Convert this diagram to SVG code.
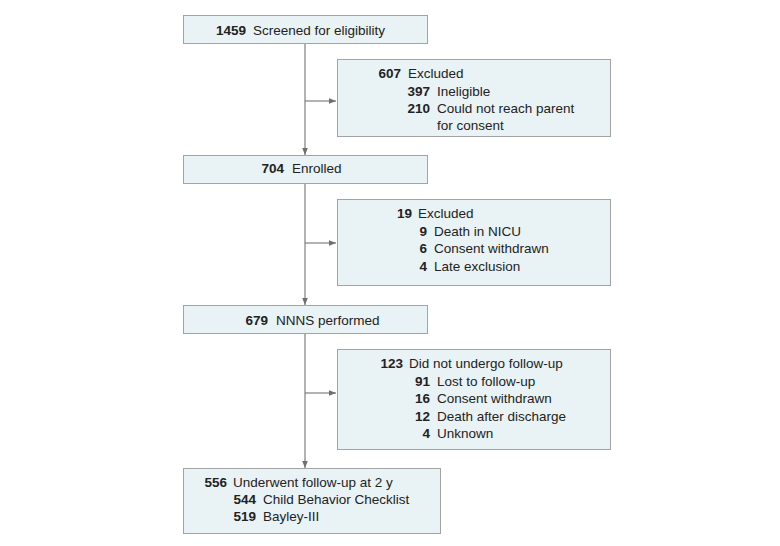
<svg xmlns="http://www.w3.org/2000/svg" width="780" height="546" viewBox="0 0 780 546">
<defs>
<style>
.box{fill:#e9f3f5;stroke:#a3a3a3;stroke-width:1}
.t{font-family:"Liberation Sans",Arial,sans-serif;font-size:13.5px;fill:#222}
.n{font-weight:bold;text-anchor:end}
.ln{stroke:#7f7f7f;stroke-width:1.2;fill:none}
</style>
<marker id="ah" viewBox="0 0 10 10" refX="10" refY="5" markerWidth="7" markerHeight="7" markerUnits="userSpaceOnUse" orient="auto">
<path d="M0,1 L10,5 L0,9 Z" fill="#6f6f6f"/>
</marker>
</defs>
<rect width="780" height="546" fill="#ffffff"/>
<g id="connectors">
<line class="ln" x1="305" y1="43" x2="305" y2="155" marker-end="url(#ah)"/>
<line class="ln" x1="305" y1="101" x2="336" y2="101" marker-end="url(#ah)"/>
<line class="ln" x1="305" y1="183" x2="305" y2="305" marker-end="url(#ah)"/>
<line class="ln" x1="305" y1="243" x2="336" y2="243" marker-end="url(#ah)"/>
<line class="ln" x1="305" y1="333" x2="305" y2="468" marker-end="url(#ah)"/>
<line class="ln" x1="305" y1="393" x2="336" y2="393" marker-end="url(#ah)"/>
</g>
<g id="screened">
<rect class="box" x="183.5" y="15.5" width="244" height="28"/>
<text class="t" x="246" y="35"><tspan class="n">1459</tspan><tspan x="253">Screened for eligibility</tspan></text>
</g>
<g id="excluded1">
<rect class="box" x="337.5" y="59.5" width="273" height="77"/>
<text class="t" x="401" y="78"><tspan class="n">607</tspan><tspan x="408">Excluded</tspan></text>
<text class="t" x="430" y="96"><tspan class="n">397</tspan><tspan x="437">Ineligible</tspan></text>
<text class="t" x="430" y="113"><tspan class="n">210</tspan><tspan x="437">Could not reach parent</tspan></text>
<text class="t" x="437" y="130">for consent</text>
</g>
<g id="enrolled">
<rect class="box" x="183.5" y="155.5" width="244" height="28"/>
<text class="t" x="284" y="173"><tspan class="n">704</tspan><tspan x="292">Enrolled</tspan></text>
</g>
<g id="excluded2">
<rect class="box" x="337.5" y="199.5" width="273" height="86"/>
<text class="t" x="412" y="218"><tspan class="n">19</tspan><tspan x="418">Excluded</tspan></text>
<text class="t" x="427" y="236"><tspan class="n">9</tspan><tspan x="434">Death in NICU</tspan></text>
<text class="t" x="427" y="253"><tspan class="n">6</tspan><tspan x="434">Consent withdrawn</tspan></text>
<text class="t" x="427" y="271"><tspan class="n">4</tspan><tspan x="434">Late exclusion</tspan></text>
</g>
<g id="nnns">
<rect class="box" x="183.5" y="305.5" width="244" height="28"/>
<text class="t" x="268" y="325"><tspan class="n">679</tspan><tspan x="276">NNNS performed</tspan></text>
</g>
<g id="nofollowup">
<rect class="box" x="337.5" y="349.5" width="273" height="100"/>
<text class="t" x="403" y="368"><tspan class="n">123</tspan><tspan x="409">Did not undergo follow-up</tspan></text>
<text class="t" x="430" y="386"><tspan class="n">91</tspan><tspan x="437">Lost to follow-up</tspan></text>
<text class="t" x="430" y="403"><tspan class="n">16</tspan><tspan x="437">Consent withdrawn</tspan></text>
<text class="t" x="430" y="421"><tspan class="n">12</tspan><tspan x="437">Death after discharge</tspan></text>
<text class="t" x="430" y="438"><tspan class="n">4</tspan><tspan x="437">Unknown</tspan></text>
</g>
<g id="followup">
<rect class="box" x="183.5" y="468.5" width="257" height="65"/>
<text class="t" x="227" y="487"><tspan class="n">556</tspan><tspan x="233">Underwent follow-up at 2 y</tspan></text>
<text class="t" x="256" y="504"><tspan class="n">544</tspan><tspan x="263">Child Behavior Checklist</tspan></text>
<text class="t" x="256" y="521"><tspan class="n">519</tspan><tspan x="263">Bayley-III</tspan></text>
</g>
</svg>
